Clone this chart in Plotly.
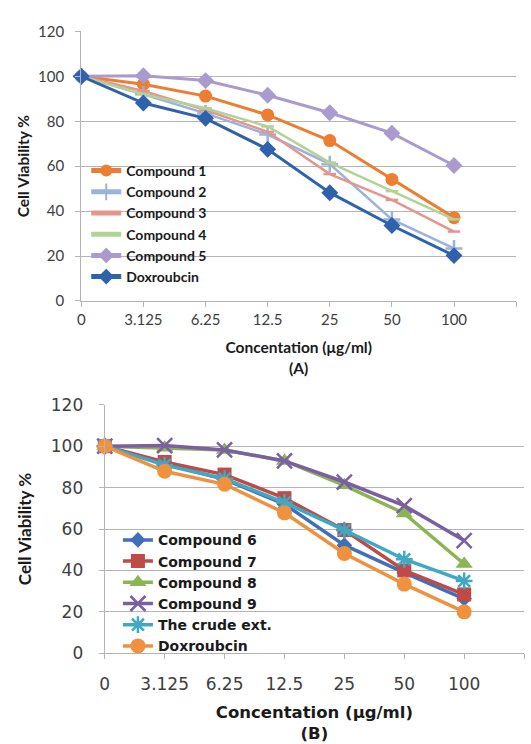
import plotly.graph_objects as go

# ---------------- data ----------------
CONC_LABELS = ["0", "3.125", "6.25", "12.5", "25", "50", "100"]
Y_TICKS = [0, 20, 40, 60, 80, 100, 120]

# Panel A
A_NAMES = ["Compound 1", "Compound 2", "Compound 3", "Compound 4", "Compound 5", "Doxroubcin"]
A_comp1 = [100, 96.5, 91.2, 82.8, 71.4, 54.1, 37.1]
A_comp2 = [100, 92.0, 83.5, 74.1, 60.9, 36.3, 23.4]
A_comp3 = [100, 93.5, 85.0, 75.3, 56.5, 45.0, 30.9]
A_comp4 = [100, 92.0, 85.8, 77.7, 61.6, 48.9, 36.3]
A_comp5 = [100, 100.3, 98.1, 91.6, 83.8, 74.7, 60.3]
A_doxo = [100, 88.1, 81.3, 67.5, 48.2, 33.6, 20.2]

# Panel B
B_NAMES = ["Compound 6", "Compound 7", "Compound 8", "Compound 9", "The crude ext.", "Doxroubcin"]
B_comp6 = [100, 91.5, 84.0, 72.0, 52.2, 38.9, 26.3]
B_comp7 = [100, 92.4, 86.3, 74.9, 59.5, 40.0, 28.4]
B_comp8 = [100, 99.2, 98.2, 92.9, 81.1, 67.5, 43.1]
B_comp9 = [100, 100.3, 98.2, 92.9, 82.7, 71.3, 54.4]
B_crude = [100, 90.9, 84.3, 72.8, 59.5, 45.4, 34.9]
B_doxo = [100, 87.9, 81.6, 67.8, 48.2, 33.4, 20.0]

# ---------------- styles ----------------
W, H = 531, 744
FA = "Lato, 'Open Sans', sans-serif"
FB = "'DejaVu Sans', Verdana, sans-serif"

A_STY = [
    dict(color="#ED7D31", symbol="circle", size=13, lw=3),
    dict(color="#9BB2DC", symbol="cross-thin", size=12, lw=2.5),
    dict(color="#E6958E", symbol="line-ew", size=9, lw=2.5),
    dict(color="#B2D396", symbol="line-ew", size=9, lw=2.5),
    dict(color="#A99BCD", symbol="diamond", size=13, lw=3),
    dict(color="#2F62AC", symbol="diamond", size=13, lw=3),
]
B_STY = [
    dict(color="#3F70B8", symbol="diamond", size=12, lw=3.5),
    dict(color="#BE4B48", symbol="square", size=14, lw=3.5),
    dict(color="#8DB453", symbol="triangle-up", size=15, lw=3.5),
    dict(color="#7A5FA3", symbol="x-thin-open", size=15, lw=3.5),
    dict(color="#3FA9C4", symbol="asterisk-open", size=14, lw=3.5),
    dict(color="#F0913F", symbol="circle", size=15, lw=3.5),
]

x_idx = list(range(len(CONC_LABELS)))
fig = go.Figure()

for i, (name, ys) in enumerate(zip(A_NAMES, [A_comp1, A_comp2, A_comp3, A_comp4, A_comp5, A_doxo])):
    s = A_STY[i]
    open_sym = s["symbol"] in ("cross-thin", "line-ew")
    fig.add_trace(go.Scatter(
        x=x_idx, y=ys, name=name, mode="lines+markers",
        xaxis="x", yaxis="y", legend="legend",
        line=dict(color=s["color"], width=s["lw"]),
        marker=dict(symbol=s["symbol"], size=s["size"], color=s["color"],
                    line=dict(color=s["color"], width=2.5 if open_sym else 0)),
        cliponaxis=False,
    ))

for i, (name, ys) in enumerate(zip(B_NAMES, [B_comp6, B_comp7, B_comp8, B_comp9, B_crude, B_doxo])):
    s = B_STY[i]
    open_sym = s["symbol"] in ("x-thin-open", "asterisk-open")
    fig.add_trace(go.Scatter(
        x=x_idx, y=ys, name=name, mode="lines+markers",
        xaxis="x2", yaxis="y2", legend="legend2",
        line=dict(color=s["color"], width=s["lw"]),
        marker=dict(symbol=s["symbol"], size=s["size"], color=s["color"],
                    line=dict(color=s["color"], width=2.5 if open_sym else 0)),
        cliponaxis=False,
    ))

GRID = "#B4B4B4"
tickvals_x = list(range(len(CONC_LABELS) + 1))
ticktext_x = CONC_LABELS + [""]

# pixel geometry -> paper domains
def dx(a, b):
    return [a / W, b / W]

def dy(top, bottom):
    return [1 - bottom / H, 1 - top / H]

A_left, A_right, A_top, A_bot = 77, 516, 22, 299
B_left, B_right, B_top, B_bot = 100.7, 524, 405.7, 661

common_x = dict(range=[0, 7], tickvals=tickvals_x, ticktext=ticktext_x,
                showline=True, linecolor=GRID, linewidth=1.2,
                ticks="outside", ticklen=5, tickcolor=GRID,
                showgrid=False, zeroline=False, fixedrange=True)
common_y = dict(range=[0, 120], tickvals=Y_TICKS,
                showline=True, linecolor=GRID, linewidth=1.2,
                ticks="outside", ticklen=5, tickcolor=GRID,
                showgrid=True, gridcolor=GRID, gridwidth=1.2,
                zeroline=False, fixedrange=True)

fig.update_layout(
    width=W, height=H, margin=dict(l=0, r=0, t=0, b=0),
    paper_bgcolor="white", plot_bgcolor="white",
    showlegend=True,
    xaxis=dict(common_x, domain=dx(A_left, A_right), anchor="y",
               tickfont=dict(family=FA, size=15, color="#404040"),
               ticklabelstandoff=0,
               title=dict(text="<b>Concentation (μg/ml)</b><br><b>(A)</b>", standoff=15,
                          font=dict(family=FA, size=15.5, color="#1a1a1a"))),
    yaxis=dict(common_y, domain=dy(A_top, A_bot), anchor="x",
               tickfont=dict(family=FA, size=15, color="#404040"),
               ticklabelstandoff=8,
               title=dict(text="<b>Cell Viability %</b>", standoff=4,
                          font=dict(family=FA, size=15.5, color="#1a1a1a"))),
    xaxis2=dict(common_x, domain=dx(B_left, B_right), anchor="y2",
                tickfont=dict(family=FB, size=17, color="#404040"),
                ticklabelstandoff=10,
                title=dict(text="<b>Concentation (μg/ml)</b><br><b>(B)</b>", standoff=13,
                           font=dict(family=FB, size=16.5, color="#1a1a1a"))),
    yaxis2=dict(common_y, domain=dy(B_top, B_bot), anchor="x2",
                tickfont=dict(family=FB, size=17, color="#404040"),
                ticklabelstandoff=12,
                title=dict(text="<b>Cell Viability %</b>", standoff=14,
                           font=dict(family=FA, size=17, color="#1a1a1a"))),
    legend=dict(x=82 / W, y=1 - 149 / H, xanchor="left", yanchor="top",
                bgcolor="rgba(0,0,0,0)", itemsizing="constant",
                font=dict(family=FA, size=14, color="#1a1a1a", weight="bold")),
    legend2=dict(x=114 / W, y=1 - 528.5 / H, xanchor="left", yanchor="top",
                 bgcolor="rgba(0,0,0,0)",
                 font=dict(family=FB, size=14, color="#1a1a1a", weight="bold")),
)

fig.write_html("out.html")
